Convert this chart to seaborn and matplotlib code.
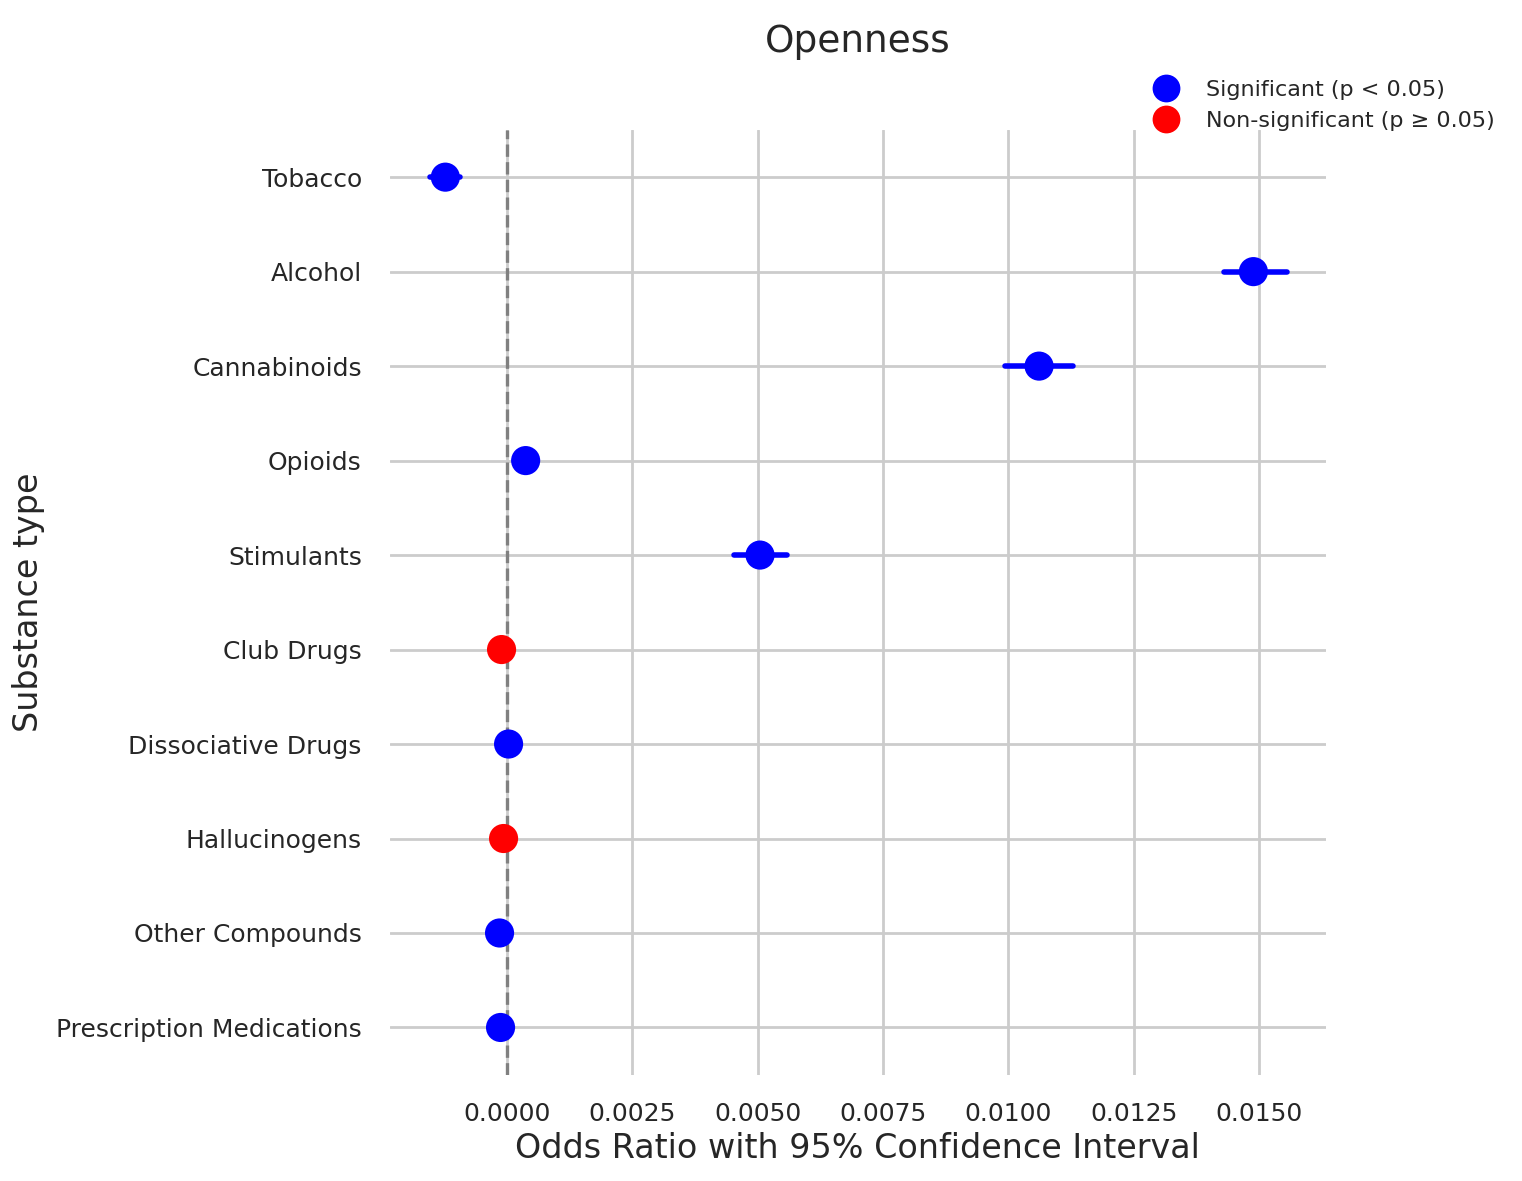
import matplotlib
matplotlib.use("Agg")
import matplotlib.pyplot as plt
import seaborn as sns
import pandas as pd
from matplotlib.lines import Line2D

substances = ["Tobacco", "Alcohol", "Cannabinoids", "Opioids", "Stimulants", "Club Drugs",
              "Dissociative Drugs", "Hallucinogens", "Other Compounds", "Prescription Medications"]
estimate = [-0.00122, 0.01488, 0.01061, 0.00038, 0.00505, -0.00010, 0.00004, -0.00006, -0.00014, -0.00012]
ci_low = [-0.00152, 0.01429, 0.00993, 0.00030, 0.00453, -0.00016, -0.00002, -0.00012, -0.00020, -0.00018]
ci_high = [-0.00092, 0.01554, 0.01129, 0.00046, 0.00559, -0.00004, 0.00010, 0.00000, -0.00008, -0.00006]
significant = [True, True, True, True, True, False, True, False, True, True]

df = pd.DataFrame({"Substance": substances, "OR": estimate, "lo": ci_low, "hi": ci_high,
                   "Sig": ["Significant (p < 0.05)" if s else "Non-significant (p ≥ 0.05)" for s in significant]})

sns.set_theme(style="whitegrid")
fig, ax = plt.subplots(figsize=(7.61, 5.905), dpi=200)
fig.subplots_adjust(left=0.256, right=0.871, top=0.89, bottom=0.09)

for i, r in df.iterrows():
    c = "blue" if significant[i] else "red"
    ax.plot([r.lo, r.hi], [i, i], color=c, lw=2, solid_capstyle="round", zorder=3)
sns.scatterplot(data=df, x="OR", y="Substance", hue="Sig",
                palette={"Significant (p < 0.05)": "blue", "Non-significant (p ≥ 0.05)": "red"},
                s=110, edgecolor="none", ax=ax, zorder=4, legend=False)
ax.axvline(0, color="gray", ls="--", lw=1.2, zorder=2)
ax.set_xlim(-0.00233, 0.01632)
ax.set_ylim(len(substances) - 0.5, -0.5)
ax.set_xticks([0, 0.0025, 0.005, 0.0075, 0.01, 0.0125, 0.015])
ax.set_xticklabels(["0.0000", "0.0025", "0.0050", "0.0075", "0.0100", "0.0125", "0.0150"], fontsize=9)
ax.tick_params(axis="y", labelsize=9, pad=4)
ax.tick_params(axis="x", pad=4)
ax.set_xlabel("Odds Ratio with 95% Confidence Interval", fontsize=12, labelpad=2)
ax.set_ylabel("Substance type", fontsize=12)
ax.set_title("Openness", fontsize=13.5, pad=28)
sns.despine(left=True, bottom=True)
handles = [Line2D([], [], marker="o", ls="", color="blue", markersize=9),
           Line2D([], [], marker="o", ls="", color="red", markersize=9)]
fig.legend(handles, ["Significant (p < 0.05)", "Non-significant (p ≥ 0.05)"], frameon=False,
           fontsize=8, loc="upper right", bbox_to_anchor=(0.988, 0.94), borderaxespad=0)
fig.savefig("out.png", dpi=200)
